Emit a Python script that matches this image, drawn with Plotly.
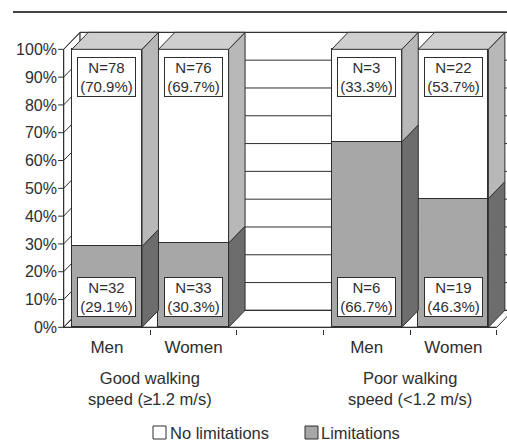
import plotly.graph_objects as go

# ---- data -------------------------------------------------------------
sexes = ["Men", "Women", "Men", "Women"]
positions = [0, 1, 3, 4]                     # slot 2 is the gap between the groups
group_titles = ["Good walking<br>speed (≥1.2 m/s)",
                "Poor walking<br>speed (&lt;1.2 m/s)"]
group_members = [[0, 1], [3, 4]]

n_limited = [32, 33, 6, 19]
pct_limited = [29.1, 30.3, 66.7, 46.3]
n_free = [78, 76, 3, 22]
pct_free = [70.9, 69.7, 33.3, 53.7]

pct_ticks = list(range(0, 101, 10))
pct_labels = [f"{v}%" for v in pct_ticks]

# ---- style --------------------------------------------------------------
FONT = "Liberation Sans, Arial, Helvetica, sans-serif"
INK = "#2e2e2e"
LIM_FRONT = "#a7a7a7"
LIM_SIDE = "#6d6d6d"
FREE_FRONT = "#ffffff"
FREE_SIDE = "#b8b8b8"
TOP_FACE = "#cfcfcf"

BAR_W = 0.81        # bar width in slot units
DX, DY = 0.19, 6.1  # oblique depth offset (x slots, y percent)
X0, X1 = -0.5, 4.5  # front edge of the floor
LABEL_Y_TOP, LABEL_Y_BOTTOM = 89.9, 10.8

# page geometry (px) used for paper-referenced decorations
W, H = 507, 441
ML, MR, MT, MB = 58, 0, 21, 112
PW, PH = W - ML - MR, H - MT - MB


def px_x(px):
    return (px - ML) / PW


def px_y(py):
    return (H - MB - py) / PH


fig = go.Figure()

# ---- front faces: stacked bars -------------------------------------------
fig.add_bar(x=positions, y=pct_limited, name="Limitations", width=BAR_W,
            marker=dict(color=LIM_FRONT, line=dict(color=INK, width=1)),
            hoverinfo="skip", showlegend=False)
fig.add_bar(x=positions, y=pct_free, name="No limitations", width=BAR_W,
            marker=dict(color=FREE_FRONT, line=dict(color=INK, width=1)),
            hoverinfo="skip", showlegend=False)

# ---- side and top faces of each column -----------------------------------
side_lim_x, side_lim_y = [], []
side_free_x, side_free_y = [], []
top_x, top_y = [], []
for c, lo, hi in zip(positions, pct_limited, pct_free):
    r = c + BAR_W / 2
    l = c - BAR_W / 2
    total = lo + hi
    side_lim_x += [r, r + DX, r + DX, r, r, None]
    side_lim_y += [0, DY, lo + DY, lo, 0, None]
    side_free_x += [r, r + DX, r + DX, r, r, None]
    side_free_y += [lo, lo + DY, total + DY, total, lo, None]
    top_x += [l, r, r + DX, l + DX, l, None]
    top_y += [total, total, total + DY, total + DY, total, None]

for xs, ys, col in [(side_lim_x, side_lim_y, LIM_SIDE),
                    (side_free_x, side_free_y, FREE_SIDE),
                    (top_x, top_y, TOP_FACE)]:
    fig.add_scatter(x=xs, y=ys, mode="lines", fill="toself", fillcolor=col,
                    line=dict(color=INK, width=1), hoverinfo="skip",
                    showlegend=False)

# ---- walls, floor and grid (drawn beneath the columns) -------------------
shapes = []
below = dict(layer="below", xref="x", yref="y")
wall_l, wall_r = X0 + DX, X1 + DX
top_pct = pct_ticks[-1]
# left wall
shapes.append(dict(type="path", **below, fillcolor="white",
                   line=dict(color=INK, width=1),
                   path=f"M{X0},0 L{wall_l},{DY} L{wall_l},{top_pct + DY} "
                        f"L{X0},{top_pct} Z"))
# back wall
shapes.append(dict(type="rect", **below, x0=wall_l, x1=wall_r, y0=DY,
                   y1=top_pct + DY, fillcolor="white",
                   line=dict(color=INK, width=1)))
# floor
shapes.append(dict(type="path", **below, fillcolor="white",
                   line=dict(color=INK, width=1),
                   path=f"M{X0},0 L{X1},0 L{wall_r},{DY} L{wall_l},{DY} Z"))
for v in pct_ticks:
    # back wall grid line
    shapes.append(dict(type="line", **below, x0=wall_l, x1=wall_r,
                       y0=v + DY, y1=v + DY, line=dict(color=INK, width=1)))
    # left wall grid line
    shapes.append(dict(type="line", **below, x0=X0, x1=wall_l,
                       y0=v, y1=v + DY, line=dict(color=INK, width=1)))
    # tick mark on the value axis
    shapes.append(dict(type="line", **below, x0=X0 - 0.063, x1=X0,
                       y0=v, y1=v, line=dict(color=INK, width=1)))
# value axis and floor front edge
shapes.append(dict(type="line", **below, x0=X0, x1=X0, y0=0, y1=top_pct,
                   line=dict(color=INK, width=1)))
shapes.append(dict(type="line", **below, x0=X0, x1=X1, y0=0, y1=0,
                   line=dict(color=INK, width=1)))

# rule across the top of the figure
shapes.append(dict(type="line", xref="paper", yref="paper",
                   x0=px_x(13), x1=px_x(W), y0=px_y(12), y1=px_y(12),
                   line=dict(color="#444444", width=2)))

# legend swatches
shapes.append(dict(type="rect", xref="paper", yref="paper",
                   x0=px_x(153), x1=px_x(166), y0=px_y(439), y1=px_y(426),
                   fillcolor=FREE_FRONT, line=dict(color=INK, width=1)))
shapes.append(dict(type="rect", xref="paper", yref="paper",
                   x0=px_x(305), x1=px_x(318), y0=px_y(439), y1=px_y(426),
                   fillcolor=LIM_FRONT, line=dict(color=INK, width=1)))

# ---- annotations ---------------------------------------------------------
annotations = []
box = dict(showarrow=False, bgcolor="white", bordercolor=INK, borderwidth=1,
           borderpad=0, width=57, height=38,
           font=dict(family=FONT, size=15, color=INK))
for c, nf, pf, nl, pl in zip(positions, n_free, pct_free, n_limited, pct_limited):
    annotations.append(dict(x=c, y=LABEL_Y_TOP, xref="x", yref="y",
                            text=f"N={nf}<br>({pf}%)", **box))
    annotations.append(dict(x=c, y=LABEL_Y_BOTTOM, xref="x", yref="y",
                            text=f"N={nl}<br>({pl}%)", **box))

for title, members in zip(group_titles, group_members):
    gx = sum(members) / len(members)
    annotations.append(dict(x=gx, y=px_y(388.5), xref="x", yref="paper",
                            text=title, showarrow=False, yanchor="middle",
                            font=dict(family=FONT, size=16.5, color=INK)))

for name, px in [("No limitations", 168), ("Limitations", 319)]:
    annotations.append(dict(x=px_x(px), y=px_y(432.5), xref="paper",
                            yref="paper", text=name, showarrow=False,
                            xanchor="left", yanchor="middle",
                            font=dict(family=FONT, size=16.5, color=INK)))

fig.update_layout(
    width=W, height=H,
    margin=dict(l=ML, r=MR, t=MT, b=MB),
    paper_bgcolor="white", plot_bgcolor="white",
    barmode="stack", bargap=0,
    showlegend=False,
    shapes=shapes, annotations=annotations,
    font=dict(family=FONT, color=INK),
    xaxis=dict(range=[-0.565, -0.565 + PW / 86.6], showgrid=False,
               zeroline=False, showline=False,
               tickmode="array", tickvals=positions, ticktext=sexes,
               ticks="", ticklabelstandoff=6,
               tickfont=dict(family=FONT, size=17, color=INK),
               minor=dict(tickmode="array", tickvals=[0.5, 1.5, 2.5, 3.5, 4.5],
                          ticks="outside", ticklen=5, tickcolor=INK,
                          tickwidth=1)),
    yaxis=dict(range=[-0.6, -0.6 + PH / 2.78], showgrid=False,
               zeroline=False, showline=False,
               tickmode="array", tickvals=pct_ticks, ticktext=pct_labels,
               ticks="", tickfont=dict(family=FONT, size=16, color=INK)),
)

fig.write_html("out.html")
